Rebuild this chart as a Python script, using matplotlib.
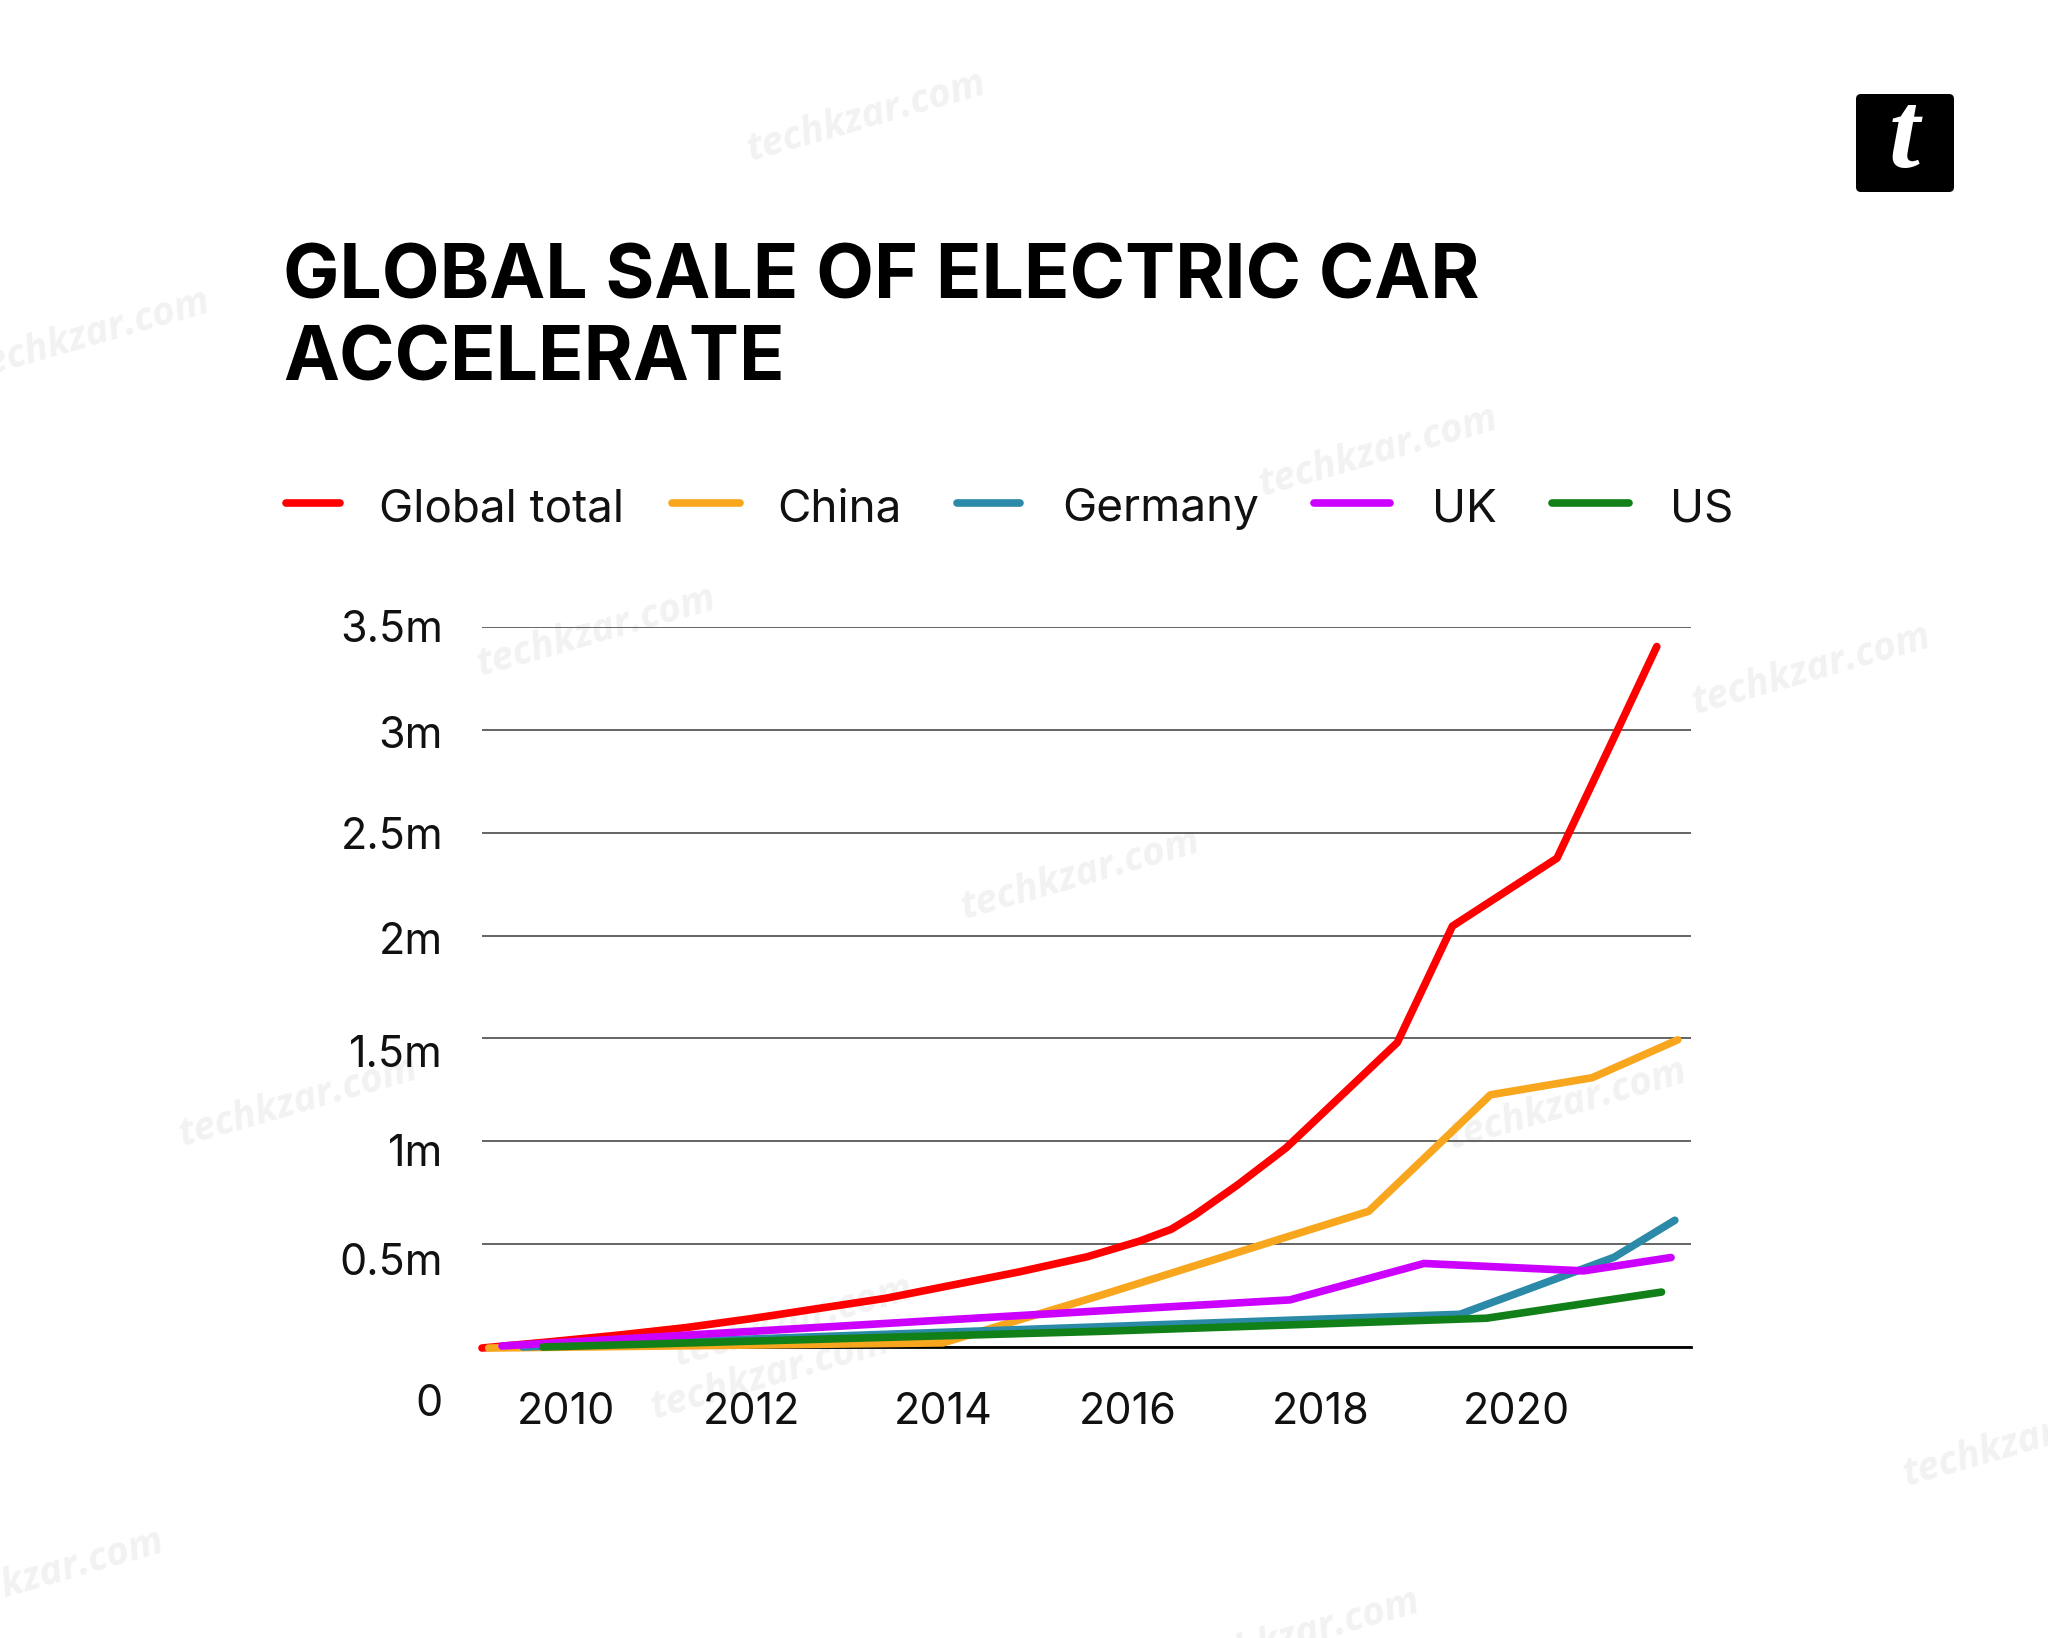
import matplotlib
matplotlib.use('Agg')
import matplotlib.pyplot as plt
from matplotlib.patches import FancyBboxPatch

TITLE = ['GLOBAL SALE OF ELECTRIC CAR', 'ACCELERATE']

global_years = [2009.12, 2009.85, 2010.56, 2011.26, 2011.97, 2012.67, 2013.37, 2014.08, 2014.78, 2015.49, 2016.04, 2016.37, 2016.62, 2017.07, 2017.58, 2018.20, 2018.75, 2019.33, 2020.43, 2021.06, 2021.48]
global_sales = [-0.005, 0.026, 0.058, 0.094, 0.139, 0.188, 0.237, 0.302, 0.366, 0.439, 0.515, 0.572, 0.642, 0.788, 0.968, 1.239, 1.48, 2.046, 2.376, 2.992, 3.405]
china_years = [2009.19, 2013.97, 2015.62, 2018.45, 2019.73, 2020.80, 2021.70]
china_sales = [-0.005, 0.02, 0.25, 0.66, 1.226, 1.309, 1.493]
germany_years = [2009.55, 2016.04, 2019.41, 2021.03, 2021.67]
germany_sales = [0.0, 0.105, 0.159, 0.436, 0.616]
uk_years = [2009.33, 2016.04, 2017.62, 2019.03, 2020.71, 2021.63]
uk_sales = [0.005, 0.187, 0.229, 0.406, 0.37, 0.435]
us_years = [2009.76, 2015.62, 2019.69, 2021.53]
us_sales = [0.0, 0.076, 0.14, 0.267]

y_ticks = [0, 0.5, 1, 1.5, 2, 2.5, 3, 3.5]
y_labels = ['0', '0.5m', '1m', '1.5m', '2m', '2.5m', '3m', '3.5m']
x_ticks = [2010, 2012, 2014, 2016, 2018, 2020]
x_labels = ['2010', '2012', '2014', '2016', '2018', '2020']

FONT = 'Inter'
W, H = 2048, 1638

fig = plt.figure(figsize=(W / 100, H / 100), dpi=100, facecolor='white')

# pixel canvas for everything that sits outside the plot
bg = fig.add_axes([0, 0, 1, 1])
bg.set_xlim(0, W)
bg.set_ylim(H, 0)
bg.axis('off')

# watermarks
for wx, wy in [(866, 117), (90, 335), (1378, 452), (596, 632), (1811, 670), (1080, 875), (298, 1102),
               (1567, 1105), (770, 1375), (793, 1322), (2022, 1442), (44, 1575), (1300, 1635)]:
    bg.text(wx, wy, 'techkzar.com', fontsize=28, family='Open Sans', weight='bold', style='italic',
            color='#f2f2f2', rotation=16, ha='center', va='center', clip_on=True)

# logo
bg.add_patch(FancyBboxPatch((1860, 98), 90, 90, boxstyle='round,pad=4,rounding_size=5', fc='black', ec='none'))
bg.text(1904, 140, 't', fontsize=80, family='Liberation Serif', weight='bold', style='italic', color='white',
        ha='center', va='center')

# title
bg.text(283, 279, TITLE[0], fontsize=54, family=FONT, weight='bold', color='black', va='center')
bg.text(283, 361, TITLE[1], fontsize=54, family=FONT, weight='bold', color='black', va='center')

# legend
legend = [('Global total', '#ff0000', 286, 340, 379), ('China', '#f9a61f', 672, 740, 777),
          ('Germany', '#2a8aa8', 957, 1020, 1062), ('UK', '#cc00ff', 1314, 1390, 1432),
          ('US', '#128018', 1552, 1629, 1670)]
for name, col, x0, x1, tx in legend:
    bg.plot([x0, x1], [503, 503], color=col, lw=5.5, solid_capstyle='round')
    bg.text(tx, 509, name, fontsize=33, family=FONT, color='#111111', va='center')

# main plot
ax = fig.add_axes([482 / W, 1 - 1347 / H, (1691 - 482) / W, (1347 - 627) / H])
ax.patch.set_alpha(0)
ax.set_xlim(2009.12, 2021.84)
ax.set_ylim(0, 3.5)
for s in ax.spines.values():
    s.set_visible(False)
ax.set_yticks(y_ticks)
ax.set_yticklabels([])
ax.set_xticks(x_ticks)
ax.set_xticklabels([])
ax.tick_params(length=0)
ax.grid(axis='y', color='#4a4a4a', lw=1.2)
ax.grid(axis='x', visible=False)
ax.set_axisbelow(True)
ax.axhline(0, color='black', lw=2, clip_on=False)

for xs, ys, col in [(global_years, global_sales, '#ff0000'), (china_years, china_sales, '#f9a61f'),
                    (germany_years, germany_sales, '#2a8aa8'), (uk_years, uk_sales, '#cc00ff'),
                    (us_years, us_sales, '#128018')]:
    ax.plot(xs, ys, color=col, lw=5.5, solid_capstyle='round', solid_joinstyle='round', clip_on=False)

# tick labels do not sit exactly on their gridlines in the original
y_offsets = [-57, -19, -13, -17, -7, -5, -7, -4]
for v, lab, off in zip(y_ticks, y_labels, y_offsets):
    ax.annotate(lab, (0, v), xycoords=('axes fraction', 'data'), xytext=(-28, off * 0.72), textcoords='offset points',
                ha='right', va='center', fontsize=31, family=FONT, color='#111111')
x_offsets = [0, -3, -2, -6, -4, 0]
for v, lab, off in zip(x_ticks, x_labels, x_offsets):
    ax.annotate(lab, (v, 0), xycoords=('data', 'axes fraction'), xytext=(off, -47), textcoords='offset points',
                ha='center', va='center', fontsize=31, family=FONT, color='#111111')

fig.savefig('out.png', dpi=100)
